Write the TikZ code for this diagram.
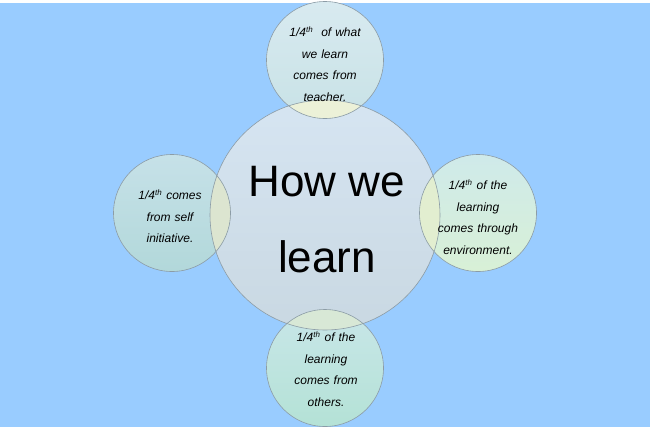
\documentclass[tikz,border=0pt]{standalone}
\usepackage{fontspec}
\setmainfont{Liberation Sans}
\definecolor{bg}{HTML}{99CCFF}
\definecolor{ringline}{HTML}{8C9CA6}
\definecolor{bigtop}{HTML}{D6E5F2}
\definecolor{bigbot}{HTML}{C9D8E2}
\definecolor{toptop}{HTML}{D8EAF0}
\definecolor{topbot}{HTML}{C8E2E6}
\definecolor{lefttop}{HTML}{C6E1E8}
\definecolor{leftbot}{HTML}{B2D8DA}
\definecolor{righttop}{HTML}{CFEAEA}
\definecolor{rightbot}{HTML}{D8F0D6}
\definecolor{bottop}{HTML}{C8E6E8}
\definecolor{botbot}{HTML}{B4E2D6}
\definecolor{lenstop}{HTML}{ECF1D8}
\definecolor{lensleft}{HTML}{DCE5D0}
\definecolor{lensright}{HTML}{E2EED0}
\definecolor{lensbot}{HTML}{D8E8D6}
\newcommand{\tightspace}{\spaceskip=0.2em plus 0.1em\relax}
\begin{document}
\begin{tikzpicture}[x=1pt,y=-1pt,
  ring/.style={circle, draw=ringline, line width=0.6pt, inner sep=0pt},
  smallring/.style={ring, minimum size=117pt},
  smalltxt/.style={font=\fontsize{12}{21.5}\selectfont\itshape\tightspace, align=center, text width=110pt, inner sep=0pt},
  bigtxt/.style={font=\fontsize{44}{76}\selectfont, align=center, inner sep=0pt}]
\useasboundingbox (0,0) rectangle (650,429);
\fill[white] (0,0) rectangle (650,429);
\fill[bg] (0,3) rectangle (650,427);
% fills
\shade[top color=bigtop, bottom color=bigbot] (325,215) circle (115pt);
\shade[top color=toptop, bottom color=topbot] (325,60) circle (58.5pt);
\shade[top color=lefttop, bottom color=leftbot] (172,213) circle (58.5pt);
\shade[top color=righttop, bottom color=rightbot] (478,213) circle (58.5pt);
\shade[top color=bottop, bottom color=botbot] (325,368) circle (58.5pt);
% overlaps
\begin{scope}
\clip (325,215) circle (115pt);
\fill[lenstop] (325,60) circle (58.5pt);
\fill[lensleft] (172,213) circle (58.5pt);
\fill[lensright] (478,213) circle (58.5pt);
\fill[lensbot] (325,368) circle (58.5pt);
\end{scope}
% outlines
\node[ring, minimum size=230pt] (big) at (325,215) {};
\node[smallring] (top) at (325,60) {};
\node[smallring] (left) at (172,213) {};
\node[smallring] (right) at (478,213) {};
\node[smallring] (bottom) at (325,368) {};
% texts
\node[bigtxt] (bigt) at (327,220) {How we\\learn};
\node[smalltxt] (topt) at (325,64) {1/4\textsuperscript{th}\ \ of what\\we learn\\comes from\\teacher.};
\node[smalltxt] (leftt) at (170,216) {1/4\textsuperscript{th} comes\\from self\\initiative.};
\node[smalltxt] (rightt) at (478,217) {1/4\textsuperscript{th} of the\\learning\\comes through\\environment.};
\node[smalltxt] (bottomt) at (326,369) {1/4\textsuperscript{th} of the\\learning\\comes from\\others.};
\end{tikzpicture}
\end{document}
